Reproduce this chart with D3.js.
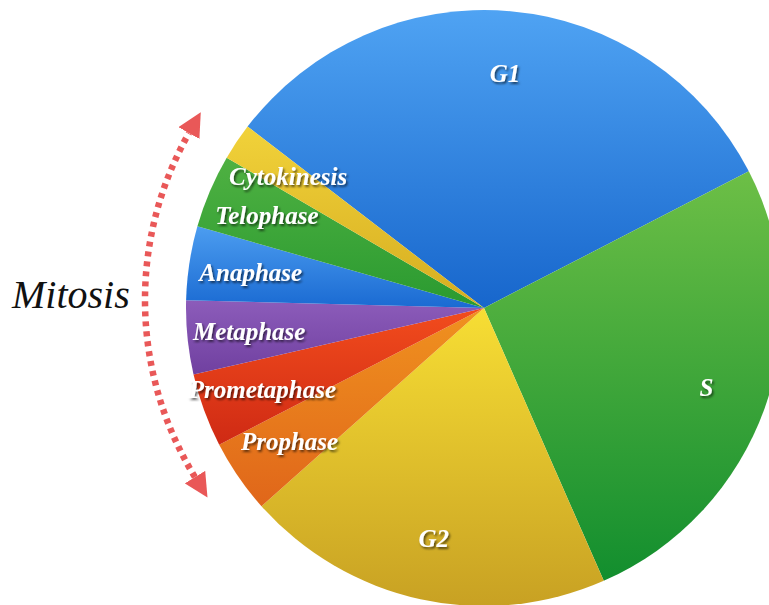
<!DOCTYPE html>
<html>
<head>
<meta charset="utf-8">
<script src="https://cdn.jsdelivr.net/npm/d3@7"></script>
<style>
body { margin: 0; background: #fff; }
svg { display: block; }
</style>
</head>
<body>
<svg class="pie"></svg>
<script>
// cell cycle phases, clockwise from G1 (share of the cycle, %)
var phases = ["G1", "S", "G2", "Prophase", "Prometaphase", "Metaphase", "Anaphase", "Telophase", "Cytokinesis"];
var shares = [32, 26, 20, 4, 4, 4, 4, 4, 2];

// slice colours: light at the top of each slice, dark at the bottom
var topColors = ["#4fa3f3", "#6dbf46", "#f7de34", "#f0921f", "#f24c1d", "#8c5cba", "#4c9df0", "#4fb142", "#f1d23a"];
var bottomColors = ["#1766cc", "#128e2e", "#c8a123", "#e0661a", "#cf2a14", "#7040a0", "#1a6ad2", "#2a9a30", "#d6ad20"];

var mitosisLabel = "Mitosis";

var width = 769,
  height = 605,
  cx = 484,
  cy = 308,
  radius = 298,
  labelRadius = 236;

var svg = d3.select(".pie")
    .attr("width", width)
    .attr("height", height);

var defs = svg.append("defs");

// one vertical gradient per slice
phases.forEach(function(p, i) {
  var g = defs.append("linearGradient")
      .attr("id", "grad" + i)
      .attr("x1", 0).attr("y1", 0)
      .attr("x2", 0).attr("y2", 1);
  g.append("stop").attr("offset", "0%").attr("stop-color", topColors[i]);
  g.append("stop").attr("offset", "100%").attr("stop-color", bottomColors[i]);
});

// soft shadow under the white labels
defs.append("filter")
    .attr("id", "shadow")
    .attr("x", "-20%").attr("y", "-40%")
    .attr("width", "140%").attr("height", "180%")
  .append("feDropShadow")
    .attr("dx", 1.5)
    .attr("dy", 2)
    .attr("stdDeviation", 1.3)
    .attr("flood-color", "#000")
    .attr("flood-opacity", 0.6);

// arrowhead for the mitosis arc
defs.append("marker")
    .attr("id", "arrow")
    .attr("viewBox", "0 -5 10 10")
    .attr("refX", 0)
    .attr("refY", 0)
    .attr("markerUnits", "userSpaceOnUse")
    .attr("markerWidth", 24)
    .attr("markerHeight", 24)
    .attr("orient", "auto-start-reverse")
  .append("path")
    .attr("d", "M0,-5L10,0L0,5Z")
    .attr("fill", "#e95858");

var deg = Math.PI / 180;

var pie = d3.pie()
    .sort(null)
    .startAngle(-52.5 * deg)
    .endAngle(307.5 * deg);

var arc = d3.arc()
    .innerRadius(0)
    .outerRadius(radius);

var labelArc = d3.arc()
    .innerRadius(labelRadius)
    .outerRadius(labelRadius);

var arcs = pie(shares);

var g = svg.append("g")
    .attr("transform", "translate(" + cx + "," + cy + ")");

g.selectAll("path.slice")
    .data(arcs)
  .enter().append("path")
    .attr("class", "slice")
    .attr("d", arc)
    .attr("fill", function(d, i) { return "url(#grad" + i + ")"; });

g.selectAll("text.label")
    .data(arcs)
  .enter().append("text")
    .attr("class", "label")
    .attr("transform", function(d) { return "translate(" + labelArc.centroid(d) + ")"; })
    .attr("dy", "0.35em")
    .attr("text-anchor", "middle")
    .attr("filter", "url(#shadow)")
    .style("font-family", "'Liberation Serif', 'Times New Roman', serif")
    .style("font-style", "italic")
    .style("font-weight", "bold")
    .style("font-size", "25px")
    .style("fill", "#fff")
    .text(function(d, i) { return phases[i]; });

// dashed arc with arrows spanning the mitosis slices
var arrowCx = 484, arrowCy = 300, arrowR = 339;
var p = d3.path();
p.arc(arrowCx, arrowCy, arrowR, (238.5 - 90) * deg, (299.5 - 90) * deg);

svg.append("path")
    .attr("d", p.toString())
    .attr("fill", "none")
    .attr("stroke", "#e95858")
    .attr("stroke-width", 6.5)
    .attr("stroke-dasharray", "5,5")
    .attr("marker-start", "url(#arrow)")
    .attr("marker-end", "url(#arrow)");

svg.append("text")
    .attr("x", 12)
    .attr("y", 308)
    .style("font-family", "'Liberation Serif', 'Times New Roman', serif")
    .style("font-style", "italic")
    .style("font-size", "40px")
    .style("fill", "#111")
    .text(mitosisLabel);
</script>
</body>
</html>
